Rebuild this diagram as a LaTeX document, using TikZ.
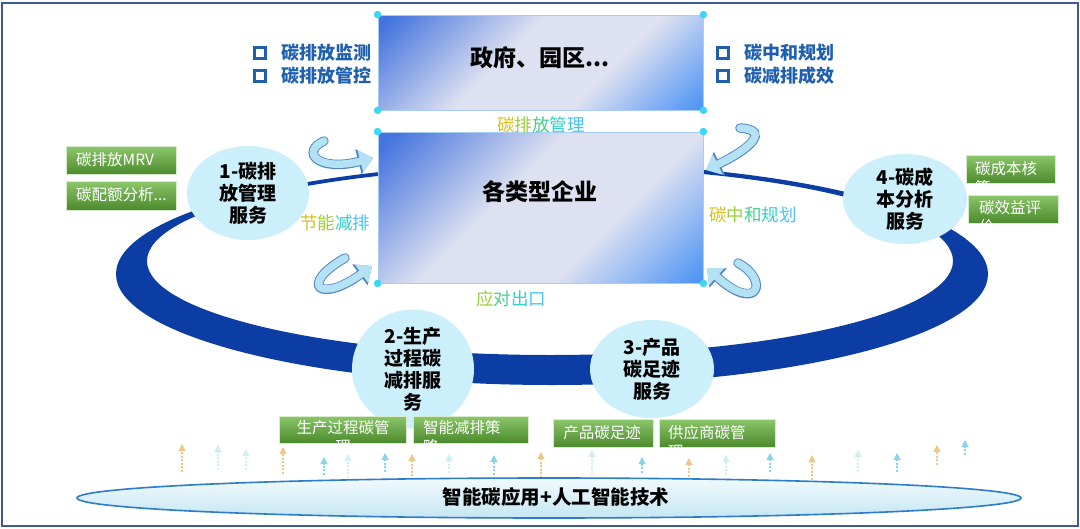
\documentclass[tikz,border=0pt]{standalone}
\usepackage{fontspec}
\setmainfont{Noto Sans CJK SC}
\usetikzlibrary{shapes.geometric,arrows.meta,calc}
\definecolor{framec}{HTML}{3D5A96}
\definecolor{bandc}{HTML}{0B3DA5}
\definecolor{circc}{HTML}{CBEFFB}
\definecolor{bulc}{HTML}{1F5FAE}
\definecolor{gtop}{HTML}{8CC66A}
\definecolor{gbot}{HTML}{4B8A2C}
\definecolor{gedge}{HTML}{D8EBCD}
\definecolor{dotc}{HTML}{3FD6F7}
\definecolor{bxA}{HTML}{4474DE}
\definecolor{bxL}{HTML}{DEE1F1}
\definecolor{bxB}{HTML}{4C93F5}
\definecolor{bxedge}{HTML}{A8CDF2}
\definecolor{swf}{HTML}{B2E2F4}
\definecolor{swe}{HTML}{5586C4}
\definecolor{arrO}{HTML}{E3A43A}
\definecolor{arrC}{HTML}{3DB5D8}
\definecolor{arrL}{HTML}{B4E2EF}
\definecolor{ellTop}{HTML}{F1FAFD}
\definecolor{ellBot}{HTML}{C4E6F2}
\definecolor{ellEdge}{HTML}{2B7CCB}
\definecolor{rbA}{HTML}{D6C21E}
\definecolor{rbB}{HTML}{9CCF3C}
\definecolor{rbC}{HTML}{45D08A}
\definecolor{rbD}{HTML}{2FD3C8}
\definecolor{rbE}{HTML}{48C4F2}
\pgfdeclarehorizontalshading{bxshade}{100bp}{color(0bp)=(bxA); color(17bp)=(bxA); color(43bp)=(bxL); color(63bp)=(bxL); color(85bp)=(bxB); color(100bp)=(bxB)}
\begin{document}
\begin{tikzpicture}[x=1pt,y=-1pt,
  boxfill/.style={rectangle, draw=bxedge, line width=0.8pt, shading=bxshade, shading angle=-45, inner sep=0pt},
  svc/.style={ellipse, fill=circc, inner sep=0pt, font=\fontsize{19}{22}\selectfont\bfseries, align=center, text=black},
  gbox/.style={rectangle, draw=gedge, line width=0.5pt, top color=gtop, bottom color=gbot, inner sep=0pt},
  gtext/.style={text=white, font=\fontsize{15.5}{18}\selectfont, inner sep=0pt},
  bulsq/.style={rectangle, draw=bulc, line width=2.8pt, minimum size=11pt, inner sep=0pt},
  bultext/.style={text=bulc, font=\fontsize{18}{22}\selectfont\bfseries, inner sep=0pt, anchor=west},
  rbtext/.style={font=\fontsize{17.5}{20}\selectfont, inner sep=0pt},
  swoosh/.style={line width=7.5pt, draw=swf, line cap=round, -{Triangle[length=13pt,width=22pt]}, preaction={draw=swe, line width=9.5pt, line cap=round, -{Triangle[length=15pt,width=25pt]}}},
  uparrow/.style={line width=1.1pt, dash pattern=on 2pt off 1.6pt, -{Triangle[length=7pt,width=7pt]}},
]
\useasboundingbox (0,0) rectangle (1080,528);
\fill[white] (0,0) rectangle (1080,528);
\draw[framec, line width=2pt] (1.5,3) rectangle (1078,526);

% ring band
\fill[bandc, even odd rule] (552,274) ellipse [x radius=436pt, y radius=111pt] (550,261) ellipse [x radius=403pt, y radius=94pt];

% swoosh arrows
\coordinate (swTLa) at (324,141); \coordinate (swTLb) at (373,158);
\draw[swoosh] (swTLa) .. controls (300,152) and (318,172) .. (swTLb);
\coordinate (swBLa) at (345,258); \coordinate (swBLb) at (372,266);
\draw[swoosh] (swBLa) .. controls (298,285) and (320,304) .. (swBLb);
\coordinate (swTRa) at (740,128); \coordinate (swTRb) at (706,170);
\draw[swoosh] (swTRa) .. controls (772,130) and (748,150) .. (swTRb);
\coordinate (swBRa) at (738,263); \coordinate (swBRb) at (707,268);
\draw[swoosh] (swBRa) .. controls (770,280) and (758,314) .. (swBRb);

% boxes
\node[boxfill, minimum width=325pt, minimum height=95pt] (gov) at (540.5,62.5) {};
\node[font=\fontsize{23}{26}\selectfont\bfseries, inner sep=0pt] (govt) at (540,58) {政府、园区...};
\node[boxfill, minimum width=325pt, minimum height=151pt] (ent) at (540.5,207.5) {};
\node[font=\fontsize{23}{26}\selectfont\bfseries, inner sep=0pt] (entt) at (540,192) {各类型企业};
\foreach \b in {gov,ent}
  \foreach \a in {north west,north east,south west,south east}
    \fill[dotc] (\b.\a) circle (3.8pt);

% rainbow labels
\node[rbtext] (lblMgmt) at (541,125) {\textcolor{rbA}{碳}\textcolor{rbB}{排}\textcolor{rbC}{放}\textcolor{rbD}{管}\textcolor{rbE}{理}};
\node[rbtext] (lblExport) at (511,299) {\textcolor{rbB}{应}\textcolor{rbC}{对}\textcolor{rbD}{出}\textcolor{rbE}{口}};
\node[rbtext] (lblSave) at (335,223) {\textcolor{rbA}{节}\textcolor{rbB}{能}\textcolor{rbD}{减}\textcolor{rbE}{排}};
\node[rbtext] (lblNeutral) at (753,215) {\textcolor{rbA}{碳}\textcolor{rbB}{中}\textcolor{rbC}{和}\textcolor{rbD}{规}\textcolor{rbE}{划}};

% bullets
\node[bulsq] (bq1) at (260,53) {};
\node[bulsq] (bq2) at (260,76) {};
\node[bultext] (bt1) at (281,53) {碳排放监测};
\node[bultext] (bt2) at (281,76) {碳排放管控};
\node[bulsq] (bq3) at (723,53) {};
\node[bulsq] (bq4) at (723,76) {};
\node[bultext] (bt3) at (744,53) {碳中和规划};
\node[bultext] (bt4) at (744,76) {碳减排成效};

% service ellipses
\node[svc, minimum width=122pt, minimum height=94pt] (s1) at (248,193) {1-碳排\\放管理\\服务};
\node[svc, minimum width=122pt, minimum height=98pt] (s2) at (413,369) {2-生产\\过程碳\\减排服\\务};
\node[svc, minimum width=124pt, minimum height=98pt] (s3) at (652,369) {3-产品\\碳足迹\\服务};
\node[svc, minimum width=124pt, minimum height=90pt] (s4) at (905,199) {4-碳成\\本分析\\服务};

% green boxes
\node[gbox, minimum width=110pt, minimum height=28pt] (g1) at (121,160.5) {};
\node[gtext, anchor=west] (g1t) at (76,160) {碳排放MRV};
\node[gbox, minimum width=110pt, minimum height=29pt] (g2) at (121,195.5) {};
\node[gtext, anchor=west] (g2t) at (76,195) {碳配额分析...};

\node[gbox, minimum width=89pt, minimum height=28pt] (g3) at (1010.5,169) {};
\begin{scope}
\clip (g3.south west) rectangle (g3.north east);
\node[gtext, anchor=west] (g3t) at (975,169) {碳成本核};
\node[gtext, anchor=west] (g3u) at (975,188) {算};
\end{scope}
\node[gbox, minimum width=90pt, minimum height=28pt] (g4) at (1013,209) {};
\begin{scope}
\clip (g4.south west) rectangle (g4.north east);
\node[gtext, anchor=west] (g4t) at (979,208) {碳效益评};
\node[gtext, anchor=west] (g4u) at (979,227) {价};
\end{scope}

\node[gbox, minimum width=127pt, minimum height=27pt] (g5) at (342.5,429.5) {};
\begin{scope}
\clip (g5.south west) rectangle (g5.north east);
\node[gtext] (g5t) at (343,428) {生产过程碳管};
\node[gtext] (g5u) at (343,447) {理};
\end{scope}
\node[gbox, minimum width=115pt, minimum height=27pt] (g6) at (470.5,429.5) {};
\begin{scope}
\clip (g6.south west) rectangle (g6.north east);
\node[gtext, anchor=west] (g6t) at (423,428) {智能减排策};
\node[gtext, anchor=west] (g6u) at (423,447) {略};
\end{scope}
\node[gbox, minimum width=100pt, minimum height=28pt] (g7) at (603,433) {};
\node[gtext] (g7t) at (602,433) {产品碳足迹};
\node[gbox, minimum width=116pt, minimum height=28pt] (g8) at (717,433) {};
\begin{scope}
\clip (g8.south west) rectangle (g8.north east);
\node[gtext, anchor=west] (g8t) at (668,433) {供应商碳管};
\node[gtext, anchor=west] (g8u) at (668,452) {理};
\end{scope}

% small upward arrows
\foreach \x/\t/\bt/\c [count=\i] in {182/444/472/arrO, 218/445/470/arrL, 246/449/470/arrL, 283/447/474/arrO, 324/457/475/arrC, 348/454/478/arrL, 385/453/472/arrC, 412/454/480/arrO, 449/454/473/arrL, 494/455/475/arrC, 541/452/478/arrO, 592/450/475/arrL, 642/457/473/arrC, 689/458/477/arrO, 726/455/475/arrL, 770/453/472/arrC, 812/455/480/arrO, 858/450/472/arrL, 897/453/472/arrC, 937/445/465/arrO, 965/440/455/arrC} {
  \coordinate (ua\i) at (\x,\bt);
  \coordinate (ub\i) at (\x,\t);
  \draw[uparrow, draw=\c!60, fill=\c] (ua\i) -- (ub\i);
}

% base ellipse
\node[ellipse, draw=ellEdge, line width=1.6pt, top color=ellTop, bottom color=ellBot, minimum width=944pt, minimum height=40pt, inner sep=0pt] (base) at (549,498) {};
\node[font=\fontsize{19.5}{22}\selectfont\bfseries, inner sep=0pt] (baset) at (556,497) {智能碳应用+人工智能技术};
\end{tikzpicture}
\end{document}
